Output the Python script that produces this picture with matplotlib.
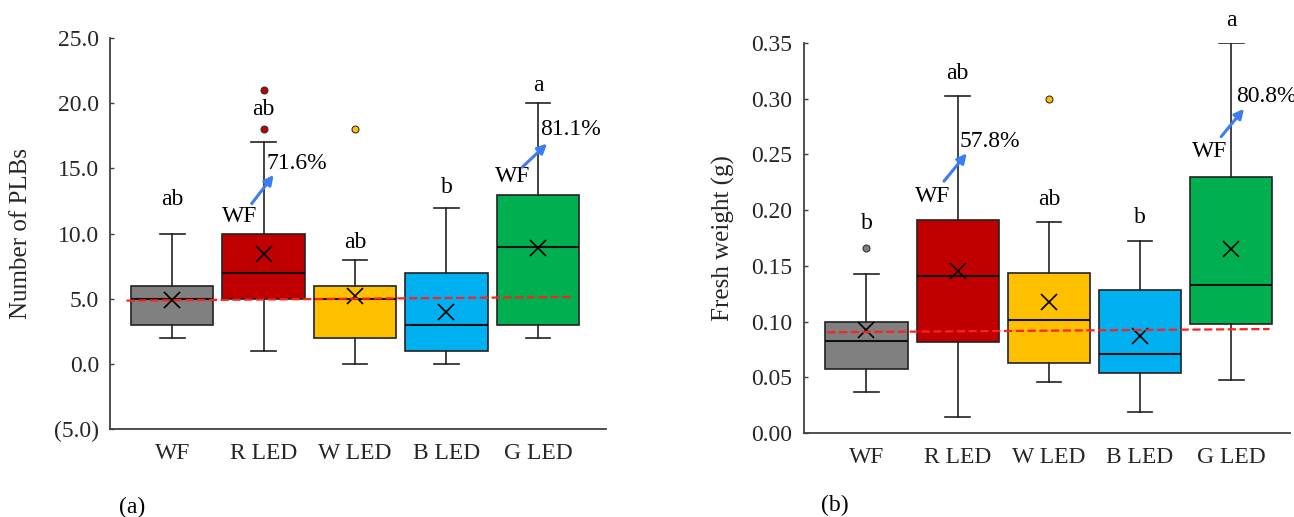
import matplotlib
matplotlib.use("Agg")
import matplotlib.pyplot as plt

plt.rcParams['font.family'] = ['Liberation Serif', 'DejaVu Serif']

groups = ['WF', 'R LED', 'W LED', 'B LED', 'G LED']
colors = ['#808080', '#C00000', '#FFC000', '#00B0F0', '#00B050']

# (a) number of PLBs
plb_low = [2, 1, 0, 0, 2]
plb_q1 = [3, 5, 2, 1, 3]
plb_med = [5, 7, 5, 3, 9]
plb_q3 = [6, 10, 6, 7, 13]
plb_high = [10, 17, 8, 12, 20]
plb_mean = [4.9, 8.4, 5.2, 4.0, 8.9]
plb_fliers = [[], [18, 21], [18], [], []]
plb_letters = ['ab', 'ab', 'ab', 'b', 'a']
plb_letter_y = [12.6, 19.5, 9.3, 13.5, 21.4]
plb_ref_x = [-0.5, 4.37]
plb_ref_y = [4.86, 5.14]
plb_pct = ['71.6%', '81.1%']

# (b) fresh weight
fw_low = [0.037, 0.014, 0.046, 0.019, 0.048]
fw_q1 = [0.057, 0.082, 0.063, 0.054, 0.098]
fw_med = [0.083, 0.141, 0.101, 0.071, 0.133]
fw_q3 = [0.100, 0.191, 0.144, 0.128, 0.230]
fw_high = [0.143, 0.302, 0.189, 0.172, 0.350]
fw_mean = [0.092, 0.145, 0.118, 0.087, 0.165]
fw_fliers = [[0.166], [], [0.300], [], []]
fw_letters = ['b', 'ab', 'ab', 'b', 'a']
fw_letter_y = [0.188, 0.323, 0.210, 0.193, 0.370]
fw_ref_x = [-0.43, 4.42]
fw_ref_y = [0.0904, 0.0933]
fw_pct = ['57.8%', '80.8%']

fs = 17
arrow_col = '#3C7CF5'


def draw_panel(ax, low, q1, med, q3, high, mean, fliers, letters, letter_y,
               ref_x, ref_y, pct, ylim, yticks, ytick_fmt, ylabel,
               xlim, wf_pos, arrows, pct_pos):
    stats = []
    for i in range(len(groups)):
        stats.append({'whislo': low[i], 'q1': q1[i], 'med': med[i], 'q3': q3[i],
                      'whishi': high[i], 'mean': mean[i], 'fliers': fliers[i]})
    bp = ax.bxp(stats, positions=range(len(groups)), widths=0.9,
                patch_artist=True, showmeans=True, showfliers=True,
                boxprops=dict(edgecolor='#222222', linewidth=1.2),
                medianprops=dict(color='#111111', linewidth=1.5),
                whiskerprops=dict(color='#222222', linewidth=1.2),
                capprops=dict(color='#222222', linewidth=1.2),
                capwidths=0.27,
                meanprops=dict(marker='x', markersize=11, markeredgecolor='black',
                               markeredgewidth=1.2),
                flierprops=dict(marker='o', markersize=5, markeredgecolor='#333333',
                                markeredgewidth=0.8))
    for patch, c in zip(bp['boxes'], colors):
        patch.set_facecolor(c)
    for fl, c in zip(bp['fliers'], colors):
        fl.set_markerfacecolor(c)

    ax.plot(ref_x, ref_y, color='#FF2020', linestyle='--', linewidth=1.6, zorder=5)

    for i, (t, y) in enumerate(zip(letters, letter_y)):
        ax.text(i, y, t, ha='center', va='center', fontsize=fs)

    for (wx, wy), (x0, y0, x1, y1), p, (px, py) in zip(wf_pos, arrows, pct, pct_pos):
        ax.text(wx, wy, 'WF', ha='center', va='center', fontsize=fs)
        ax.annotate('', xy=(x1, y1), xytext=(x0, y0),
                    arrowprops=dict(arrowstyle='-|>', color=arrow_col, lw=2.2,
                                    mutation_scale=14, shrinkA=0, shrinkB=0))
        ax.text(px, py, p, ha='left', va='center', fontsize=fs)

    ax.set_xlim(*xlim)
    ax.set_ylim(*ylim)
    ax.set_yticks(yticks)
    ax.set_yticklabels([ytick_fmt(v) for v in yticks])
    ax.set_xticks(range(len(groups)))
    ax.set_xticklabels(groups)
    for s in ['top', 'right']:
        ax.spines[s].set_visible(False)
    for s in ['left', 'bottom']:
        ax.spines[s].set_color('#404040')
        ax.spines[s].set_linewidth(1.3)
    ax.tick_params(axis='y', direction='in', length=3, width=1, color='#404040',
                   labelsize=fs, labelcolor='#262626', pad=8)
    ax.tick_params(axis='x', length=0, labelsize=fs, labelcolor='#262626', pad=10)
    ax.set_ylabel(ylabel, fontsize=fs + 1, color='#262626')


fig = plt.figure(figsize=(12.94, 5.17), dpi=100)
ax1 = fig.add_axes([0.085, 0.170, 0.383, 0.7563])
ax2 = fig.add_axes([0.621, 0.1625, 0.3756, 0.7543])


def fmt_a(v):
    return '({:.1f})'.format(-v) if v < 0 else '{:.1f}'.format(v)


draw_panel(ax1, plb_low, plb_q1, plb_med, plb_q3, plb_high, plb_mean, plb_fliers,
           plb_letters, plb_letter_y, plb_ref_x, plb_ref_y, plb_pct,
           (-5, 25), [-5, 0, 5, 10, 15, 20, 25], fmt_a, 'Number of PLBs',
           (-0.68, 4.74),
           wf_pos=[(0.74, 11.3), (3.72, 14.4)],
           arrows=[(0.87, 12.3, 1.11, 14.5), (3.83, 15.1, 4.10, 16.9)],
           pct_pos=[(1.03, 15.4), (4.02, 18.0)])
ax1.yaxis.set_label_coords(-0.157, 0.5)

draw_panel(ax2, fw_low, fw_q1, fw_med, fw_q3, fw_high, fw_mean, fw_fliers,
           fw_letters, fw_letter_y, fw_ref_x, fw_ref_y, fw_pct,
           (0, 0.35), [0, 0.05, 0.10, 0.15, 0.20, 0.25, 0.30, 0.35],
           lambda v: '{:.2f}'.format(v), 'Fresh weight (g)',
           (-0.69, 4.64),
           wf_pos=[(0.73, 0.212), (3.76, 0.253)],
           arrows=[(0.85, 0.226, 1.10, 0.251), (3.89, 0.266, 4.14, 0.291)],
           pct_pos=[(1.02, 0.262), (4.05, 0.302)])
ax2.yaxis.set_label_coords(-0.142, 0.5)

fig.text(0.102, 0.019, '(a)', fontsize=fs, ha='center', va='center')
fig.text(0.645, 0.023, '(b)', fontsize=fs, ha='center', va='center')

fig.savefig('out.png', dpi=100)
